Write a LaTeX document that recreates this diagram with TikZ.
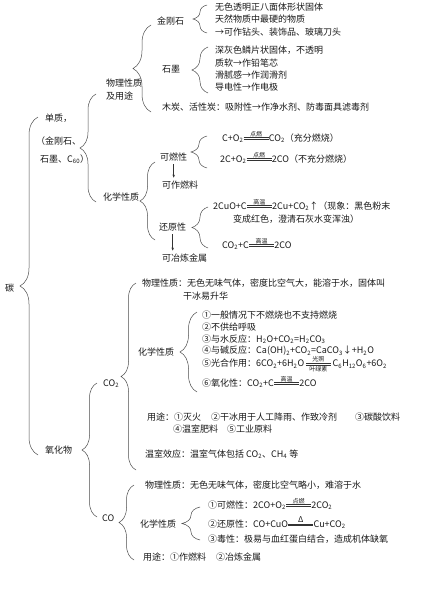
\documentclass[tikz,border=0pt]{standalone}
\usepackage{fontspec}
\setmainfont{Noto Sans CJK SC}
\usetikzlibrary{decorations.pathreplacing, arrows.meta}
\tikzset{
	txt/.style={
			anchor=west,
			inner sep=0pt,
			font=\fontsize{9}{12.5}\selectfont,
			text=black!90
		},
	curly/.style={
			decorate,
			decoration={brace, amplitude=#1},
			draw=black!70,
			line width=0.5pt
		},
	curly/.default=15pt,
	downarrow/.style={
			-{Stealth[length=3pt, width=2.5pt]},
			draw=black!80,
			line width=0.5pt,
			shorten <=3pt,
			shorten >=3pt
		},
	eqlabel/.style={
			inner sep=0pt,
			font=\fontsize{6}{6}\selectfont,
			text=black!90
		}
}
\newcommand{\ssub}[1]{\textsubscript{#1}}
\newcommand{\rxn}[2][]{\tikz[baseline=-0.6ex]{%
    \draw[line width=0.5pt, draw=black!80] (0pt,0.9pt) -- (25pt,0.9pt) (0pt,-0.9pt) -- (25pt,-0.9pt);
    \node[eqlabel, anchor=south] (up) at (12.5pt,1.7pt) {#2};
    \node[eqlabel, anchor=north] (dn) at (12.5pt,-1.9pt) {#1};}}

\begin{document}
\begin{tikzpicture}[x=1pt, y=-1pt]
  \useasboundingbox[fill=white] (0,0) rectangle (438,589);

  % carbon, simple substance
  \node[txt] (tan) at (5,288) {碳};
  \node[txt] (dz1) at (45,118) {单质，};
  \node[txt] (dz2) at (36,141) {（金刚石、};
  \node[txt] (dz3) at (40,159) {石墨、C\ssub{60}）};

  \node[txt, align=left] (wl) at (106,89.5) {物理性质\\及用途};
  \node[txt] (jgs) at (157,21) {金刚石};
  \node[txt] (jgs1) at (215,7) {无色透明正八面体形状固体};
  \node[txt] (jgs2) at (215,19) {天然物质中最硬的物质};
  \node[txt] (jgs3) at (215,32) {→可作钻头、装饰品、玻璃刀头};
  \node[txt] (sm) at (162,69) {石墨};
  \node[txt] (sm1) at (215,50) {深灰色鳞片状固体，不透明};
  \node[txt] (sm2) at (215,63) {质软→作铅笔芯};
  \node[txt] (sm3) at (215,75) {滑腻感→作润滑剂};
  \node[txt] (sm4) at (215,87) {导电性→作电极};
  \node[txt] (mt) at (162,107) {木炭、活性炭：吸附性→作净水剂、防毒面具滤毒剂};

  \node[txt] (hx) at (103,197) {化学性质};
  \node[txt] (kr) at (160,157) {可燃性};
  \node[txt] (krzl) at (162,185) {可作燃料};
  \node[txt] (kr1) at (222,137) {C+O\ssub{2}\rxn{点燃}CO\ssub{2}（充分燃烧）};
  \node[txt] (kr2) at (220,158) {2C+O\ssub{2}\rxn{点燃}2CO（不充分燃烧）};
  \node[txt] (hy) at (159,227) {还原性};
  \node[txt] (yjs) at (162,258) {可冶炼金属};
  \node[txt] (hy1) at (213,205) {2CuO+C\rxn{高温}2Cu+CO\ssub{2}↑（现象：黑色粉末};
  \node[txt] (hy1b) at (233,219) {变成红色，澄清石灰水变浑浊）};
  \node[txt] (hy2) at (222,244) {CO\ssub{2}+C\rxn{高温}2CO};

  % oxides
  \node[txt] (yhw) at (45,450) {氧化物};
  \node[txt] (co2) at (103,384) {CO\ssub{2}};
  \node[txt] (co2wl) at (142,283) {物理性质：无色无味气体，密度比空气大，能溶于水，固体叫};
  \node[txt] (co2wlb) at (183,296) {干冰易升华};
  \node[txt] (co2hx) at (138,352) {化学性质};
  \node[txt] (c1) at (202,315) {①一般情况下不燃烧也不支持燃烧};
  \node[txt] (c2) at (202,327) {②不供给呼吸};
  \node[txt] (c3) at (202,339) {③与水反应：H\ssub{2}O+CO\ssub{2}=H\ssub{2}CO\ssub{3}};
  \node[txt] (c4) at (202,351) {④与碱反应：Ca(OH)\ssub{2}+CO\ssub{2}=CaCO\ssub{3}↓+H\ssub{2}O};
  \node[txt] (c5) at (202,364) {⑤光合作用：6CO\ssub{2}+6H\ssub{2}O\,\rxn[叶绿素]{光照}\,C\ssub{6}H\ssub{12}O\ssub{6}+6O\ssub{2}};
  \node[txt] (c6) at (202,382) {⑥氧化性：CO\ssub{2}+C\rxn{高温}2CO};
  \node[txt] (co2yt) at (147,417) {用途：①灭火\hspace{10pt}②干冰用于人工降雨、作致冷剂\hspace{18pt}③碳酸饮料};
  \node[txt] (co2ytb) at (173,429) {④温室肥料\hspace{9pt}⑤工业原料};
  \node[txt] (wsxy) at (145,454) {温室效应：温室气体包括 CO\ssub{2}、CH\ssub{4} 等};

  \node[txt] (co) at (102,518) {CO};
  \node[txt] (cowl) at (145,485) {物理性质：无色无味气体，密度比空气略小，难溶于水};
  \node[txt] (cohx) at (140,524) {化学性质};
  \node[txt] (co1) at (208,504) {①可燃性：2CO+O\ssub{2}\rxn{点燃}2CO\ssub{2}};
  \node[txt] (co2r) at (208,523) {②还原性：CO+CuO\rxn{\fontsize{8}{8}\selectfont Δ}Cu+CO\ssub{2}};
  \node[txt] (co3) at (208,539) {③毒性：极易与血红蛋白结合，造成机体缺氧};
  \node[txt] (coyt) at (143,557) {用途：①作燃料\hspace{10pt}②冶炼金属};

  % brace ends
  \coordinate (tanT) at (38,117);   \coordinate (tanB) at (38,455);
  \coordinate (dzT) at (96,94);     \coordinate (dzB) at (96,202);
  \coordinate (wlT) at (151,25);    \coordinate (wlB) at (151,112);
  \coordinate (jgsT) at (207,5);    \coordinate (jgsB) at (207,33);
  \coordinate (smT) at (208,47);    \coordinate (smB) at (208,93);
  \coordinate (hxT) at (155,162);   \coordinate (hxB) at (155,240);
  \coordinate (krT) at (207,136);   \coordinate (krB) at (207,168);
  \coordinate (hyT) at (208,207);   \coordinate (hyB) at (208,248);
  \coordinate (yhwT) at (97,383);   \coordinate (yhwB) at (97,517);
  \coordinate (co2T) at (136,283);  \coordinate (co2B) at (136,470);
  \coordinate (co2hxT) at (197,312);\coordinate (co2hxB) at (197,392);
  \coordinate (coT) at (134,485);   \coordinate (coB) at (134,560);
  \coordinate (cohxT) at (200,507); \coordinate (cohxB) at (200,540);

  \draw[curly=18pt] (tanB) -- (tanT);
  \draw[curly=16pt] (dzB) -- (dzT);
  \draw[curly=18pt] (wlB) -- (wlT);
  \draw[curly=14pt] (jgsB) -- (jgsT);
  \draw[curly=16pt] (smB) -- (smT);
  \draw[curly] (hxB) -- (hxT);
  \draw[curly=16pt] (krB) -- (krT);
  \draw[curly=16pt] (hyB) -- (hyT);
  \draw[curly] (yhwB) -- (yhwT);
  \draw[curly] (co2B) -- (co2T);
  \draw[curly=17pt] (co2hxB) -- (co2hxT);
  \draw[curly] (coB) -- (coT);
  \draw[curly=18pt] (cohxB) -- (cohxT);

  % arrows
  \draw[downarrow] (kr.south) -- (kr.south |- krzl.north);
  \draw[downarrow] (hy.south) -- (hy.south |- yjs.north);

\end{tikzpicture}
\end{document}
